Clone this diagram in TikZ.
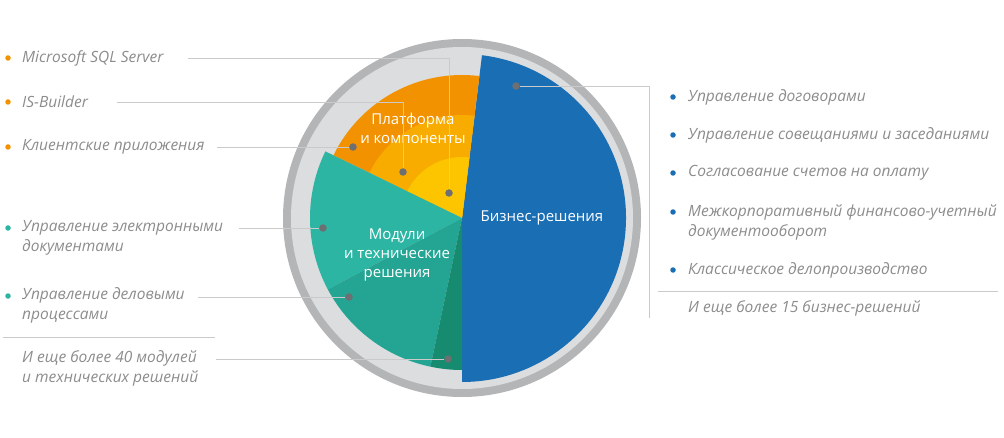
\documentclass[tikz,border=0pt]{standalone}
\usepackage{fontspec}
\setmainfont{Open Sans}
\usetikzlibrary{positioning, calc}

\definecolor{bizblue}{HTML}{1A6EB4}
\definecolor{orA}{HTML}{F39200}
\definecolor{orB}{HTML}{F8AC00}
\definecolor{orC}{HTML}{FCC500}
\definecolor{tealA}{HTML}{2DB5A3}
\definecolor{tealB}{HTML}{24A594}
\definecolor{tealC}{HTML}{178B6F}
\definecolor{ringgray}{HTML}{B4B5B7}
\definecolor{bggray}{HTML}{DCDDDF}
\definecolor{dotgray}{HTML}{6E6F72}
\definecolor{linegray}{HTML}{CACACA}
\definecolor{txtgray}{HTML}{8C8C8C}

\tikzset{
  dot/.style={circle,fill=dotgray,inner sep=0pt,minimum size=7.5pt},
  bul/.style={circle,fill=#1,inner sep=0pt,minimum size=5.5pt},
  item/.style={anchor=west,inner sep=0pt,align=left,text=txtgray,
    font=\itshape\fontsize{15.5}{20}\selectfont},
  inlabel/.style={text=white,align=center,font=\fontsize{15}{19}\selectfont},
  lead/.style={draw=linegray,line width=0.8pt}
}

\begin{document}
\begin{tikzpicture}[x=1pt,y=1pt]
\useasboundingbox (0,0) rectangle (1004,437);
\coordinate (c) at (462,219);

% disc and sectors
\fill[ringgray] (c) circle (179);
\fill[bggray] (c) circle (171);
\fill[bizblue] (c) -- ++(83:164) arc[start angle=83,end angle=-90,radius=164] -- cycle;
\fill[orA] (c) -- ++(83:143) arc[start angle=83,end angle=154,radius=143] -- cycle;
\fill[orB] (c) -- ++(83:103) arc[start angle=83,end angle=154,radius=103] -- cycle;
\fill[orC] (c) -- ++(83:61) arc[start angle=83,end angle=154,radius=61] -- cycle;
\fill[tealA] (c) -- ++(154:152) arc[start angle=154,end angle=208,radius=152] -- cycle;
\fill[tealB] (c) -- ++(208:152) arc[start angle=208,end angle=258,radius=152] -- cycle;
\fill[tealC] (c) -- ++(258:152) arc[start angle=258,end angle=270,radius=152] -- cycle;

\node[inlabel] (platf) at (413,309) {Платформа\\и компоненты};
\node[inlabel] (biz) at (542,219) {Бизнес-решения};
\node[inlabel] (modul) at (397,182) {Модули\\и технические\\решения};

% left list
\draw (8,379) node[bul=orA](bsql){}  (8,335) node[bul=orA](bisb){}  (8,290) node[bul=orA](bcli){}
      (8,209) node[bul=tealA](bedo){}  (8,141) node[bul=tealA](bbpm){};
\node[item] (sql) at (22,379) {Microsoft SQL Server};
\node[item] (isb) at (22,335) {IS-Builder};
\node[item] (cli) at (22,290) {Клиентские приложения};
\node[item] (edo) at (22,199) {Управление электронными\\документами};
\node[item] (bpm) at (22,132) {Управление деловыми\\процессами};
\node[item] (more40) at (22,69) {И еще более 40 модулей\\и технических решений};

% right list
\draw (673,340) node[bul=bizblue](bdog){}  (673,302) node[bul=bizblue](bsov){}
      (673,264) node[bul=bizblue](bsch){}  (673,225) node[bul=bizblue](bmfu){}
      (673,167) node[bul=bizblue](bdel){};
\node[item] (dog) at (688,340) {Управление договорами};
\node[item] (sov) at (688,302) {Управление совещаниями и заседаниями};
\node[item] (sch) at (688,264) {Согласование счетов на оплату};
\node[item] (mfu) at (688,215) {Межкорпоративный финансово-учетный\\документооборот};
\node[item] (del) at (688,167) {Классическое делопроизводство};
\node[item] (more15) at (688,129) {И еще более 15 бизнес-решений};

% separators
\draw[lead] (3,100) -- (215,100);
\draw[lead] (658,146) -- (998,146);

% leader lines
\coordinate (lsql) at (188,379);
\coordinate (lisb) at (117,335);
\coordinate (lcli) at (217,290);
\coordinate (ledo) at (239,209);
\coordinate (lbpm) at (198,140);
\coordinate (lm40) at (216,78);
\coordinate (lbiz) at (649,119);
\draw (449,244) node[dot](dsql){}  (403,265) node[dot](disb){}  (353,290) node[dot](dcli){}
      (323,209) node[dot](dedo){}  (349,140) node[dot](dbpm){}  (448,78) node[dot](dm40){}
      (516,351) node[dot](dbiz){};
\draw[lead] (lsql) -| (dsql);
\draw[lead] (lisb) -| (disb);
\draw[lead] (lcli) -- (dcli);
\draw[lead] (ledo) -- (dedo);
\draw[lead] (lbpm) -- (dbpm);
\draw[lead] (lm40) -- (dm40);
\draw[lead] (dbiz) -| (lbiz);
\end{tikzpicture}
\end{document}
